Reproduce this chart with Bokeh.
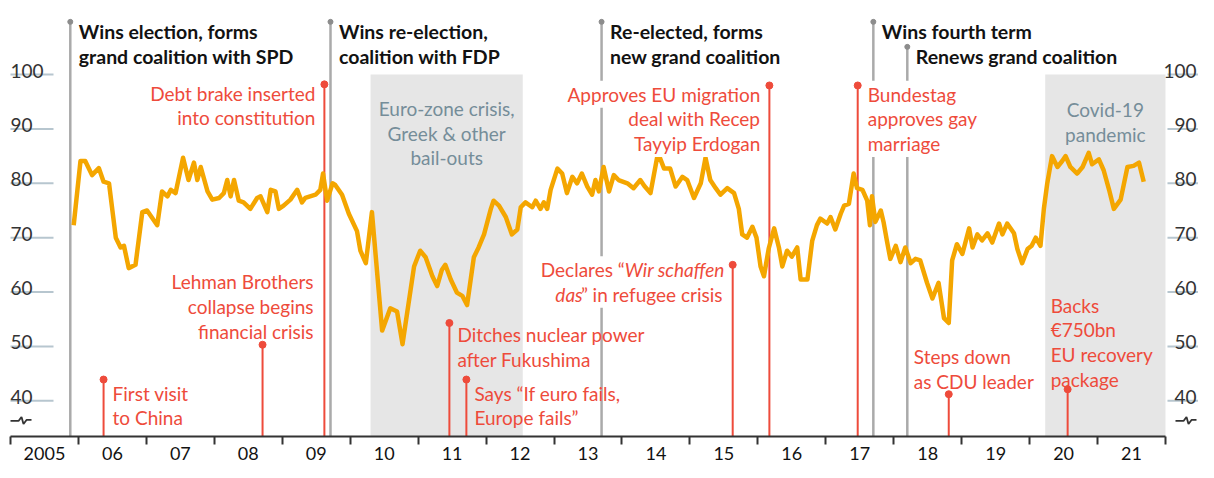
from bokeh.plotting import figure
from bokeh.models import Range1d, LinearAxis, FixedTicker, ColumnDataSource
from bokeh.core.properties import value
from bokeh.embed import file_html
from bokeh.resources import INLINE

# ------------------------------------------------------------------ data
dates = [2005.93, 2006.03, 2006.10, 2006.20, 2006.30, 2006.37, 2006.45, 2006.55, 2006.62, 2006.67,
         2006.74, 2006.84, 2006.94, 2007.01, 2007.16, 2007.23, 2007.31, 2007.36, 2007.43, 2007.54,
         2007.62, 2007.70, 2007.75, 2007.80, 2007.90, 2007.97, 2008.07, 2008.14, 2008.19, 2008.24,
         2008.29, 2008.36, 2008.43, 2008.53, 2008.63, 2008.68, 2008.78, 2008.83, 2008.90, 2008.95,
         2009.02, 2009.12, 2009.22, 2009.29, 2009.34, 2009.49, 2009.56, 2009.60, 2009.66, 2009.74,
         2009.78, 2009.88, 2009.98, 2010.10, 2010.15, 2010.23, 2010.32, 2010.47, 2010.59, 2010.69,
         2010.77, 2010.94, 2011.03, 2011.11, 2011.21, 2011.28, 2011.35, 2011.40, 2011.48, 2011.57,
         2011.65, 2011.72, 2011.82, 2011.89, 2011.97, 2012.07, 2012.11, 2012.19, 2012.29, 2012.38,
         2012.46, 2012.51, 2012.58, 2012.68, 2012.73, 2012.80, 2012.85, 2012.90, 2012.95, 2013.05,
         2013.12, 2013.19, 2013.27, 2013.34, 2013.41, 2013.49, 2013.56, 2013.61, 2013.66, 2013.73,
         2013.81, 2013.88, 2013.95, 2014.08, 2014.17, 2014.27, 2014.33, 2014.42, 2014.53, 2014.62,
         2014.71, 2014.79, 2014.89, 2014.96, 2015.06, 2015.16, 2015.23, 2015.30, 2015.38, 2015.45,
         2015.55, 2015.65, 2015.72, 2015.77, 2015.84, 2015.92, 2015.98, 2016.04, 2016.09, 2016.16,
         2016.24, 2016.31, 2016.36, 2016.43, 2016.50, 2016.58, 2016.63, 2016.73, 2016.80, 2016.87,
         2016.92, 2017.02, 2017.07, 2017.14, 2017.22, 2017.27, 2017.34, 2017.41, 2017.46, 2017.54,
         2017.61, 2017.65, 2017.68, 2017.73, 2017.81, 2017.85, 2017.90, 2017.95, 2018.03, 2018.10,
         2018.17, 2018.25, 2018.32, 2018.39, 2018.49, 2018.57, 2018.66, 2018.74, 2018.81, 2018.86,
         2018.93, 2019.01, 2019.11, 2019.16, 2019.23, 2019.30, 2019.38, 2019.45, 2019.55, 2019.60,
         2019.67, 2019.77, 2019.82, 2019.89, 2019.97, 2020.03, 2020.09, 2020.16, 2020.21, 2020.26,
         2020.33, 2020.41, 2020.48, 2020.53, 2020.60, 2020.70, 2020.78, 2020.87, 2020.92, 2021.02,
         2021.09, 2021.17, 2021.24, 2021.34, 2021.44, 2021.53, 2021.61, 2021.68]
approval = [72.3, 84.1, 84.1, 81.5, 82.8, 80.3, 80.0, 70.0, 68.2, 68.5,
            64.4, 65.0, 74.7, 75.0, 72.3, 78.5, 77.6, 78.8, 78.2, 84.7,
            80.6, 83.8, 80.6, 83.0, 78.5, 77.0, 77.3, 78.2, 80.6, 77.6,
            80.6, 76.8, 76.5, 75.3, 77.3, 77.6, 74.7, 78.8, 78.5, 75.3,
            75.9, 77.0, 78.8, 76.5, 77.3, 77.9, 78.8, 81.8, 76.8, 80.0,
            79.7, 77.9, 74.4, 71.2, 67.6, 65.3, 74.7, 52.9, 57.0, 56.4,
            50.4, 64.7, 67.6, 66.4, 62.9, 61.1, 64.1, 65.0, 62.3, 59.9,
            59.3, 57.6, 66.4, 68.2, 70.6, 75.3, 76.8, 75.9, 73.8, 70.6,
            71.5, 75.6, 76.5, 75.6, 76.8, 75.3, 76.5, 75.3, 78.8, 82.7,
            81.8, 78.2, 81.2, 80.0, 81.8, 79.4, 77.9, 80.6, 78.5, 83.0,
            78.5, 81.5, 80.6, 80.0, 79.1, 80.6, 79.5, 78.2, 85.6, 82.7,
            82.7, 79.4, 81.2, 80.6, 77.3, 80.0, 84.7, 80.6, 79.1, 77.9,
            79.1, 78.2, 75.3, 70.6, 70.0, 72.0, 70.0, 64.7, 62.9, 68.0,
            71.7, 68.2, 64.7, 67.6, 66.5, 68.2, 62.3, 62.3, 69.4, 72.3,
            73.5, 72.6, 73.8, 71.5, 74.4, 75.9, 76.2, 81.8, 79.1, 78.8,
            76.8, 72.3, 77.6, 72.9, 75.0, 72.9, 69.4, 66.1, 68.5, 65.5,
            68.2, 65.3, 66.1, 65.8, 61.7, 58.8, 61.7, 55.2, 54.3, 65.8,
            68.8, 67.0, 71.7, 68.2, 70.6, 69.5, 70.8, 69.1, 72.6, 70.6,
            72.6, 70.8, 67.9, 65.3, 67.9, 68.5, 70.0, 68.5, 75.3, 80.0,
            85.0, 83.0, 84.1, 85.0, 83.0, 81.8, 83.0, 85.6, 83.5, 84.4,
            82.4, 78.8, 75.3, 77.0, 83.0, 83.2, 83.8, 80.3]

y_ticks = [100, 90, 80, 70, 60, 50, 40]
y_tick_labels = ["100", "90", "80", "70", "60", "50", "40"]

years = list(range(2005, 2022))
year_labels = ["2005", "06", "07", "08", "09", "10", "11", "12", "13",
               "14", "15", "16", "17", "18", "19", "20", "21"]

shade_start = [2010.30, 2020.23]
shade_end = [2012.54, 2022.0]
shade_top = [100, 100]
shade_labels = ["Euro-zone crisis,\nGreek & other\nbail-outs", "Covid-19\npandemic"]

election_dates = [2005.88, 2009.71, 2013.70, 2017.70, 2018.20]
election_tops = [109.7, 109.7, 109.7, 109.7, 105.1]
election_labels = ["Wins election, forms\ngrand coalition with SPD",
                   "Wins re-election,\ncoalition with FDP",
                   "Re-elected, forms\nnew grand coalition",
                   "Wins fourth term",
                   "Renews grand coalition"]

event_dates = [2006.37, 2008.71, 2009.62, 2011.46, 2011.71, 2015.63, 2016.17, 2017.47, 2018.81, 2020.56]
event_values = [43.9, 50.3, 98.2, 54.3, 43.9, 65.0, 98.0, 98.0, 41.2, 42.1]
event_labels = ["First visit\nto China",
                "Lehman Brothers\ncollapse begins\nfinancial crisis",
                "Debt brake inserted\ninto constitution",
                "Ditches nuclear power\nafter Fukushima",
                "Says \u201cIf euro fails,\nEurope fails\u201d",
                "Declares \u201cWir schaffen\ndas\u201d in refugee crisis",
                "Approves EU migration\ndeal with Recep\nTayyip Erdogan",
                "Bundestag\napproves gay\nmarriage",
                "Steps down\nas CDU leader",
                "Backs\n\u20ac750bn\nEU recovery\npackage"]

# ------------------------------------------------------------------ style / layout
FONT = "Lato"
ORANGE = "#f4a600"
RED = "#ee4b3b"
GREY_LINE = "#aaaaaa"
SHADE = "#e6e6e6"
SLATE = "#758d99"
GRID = "#b7c6cf"
INK = "#121212"

W, H = 1198, 462
K = H / 478.0                 # vertical compression of the layout
PX_YEAR = 67.94               # pixels per year
PX_UNIT = 5.65 * K            # pixels per index point
X_START = 2005 - 10 / PX_YEAR
X_END = X_START + W / PX_YEAR
FRAME_H = 438
Y_TOP = 100 + 77 * K / PX_UNIT
Y_BOT = Y_TOP - FRAME_H / PX_UNIT

p = figure(width=W, height=H, x_range=Range1d(X_START, X_END), y_range=Range1d(Y_BOT, Y_TOP),
           output_backend="svg", toolbar_location=None,
           x_axis_location=None, y_axis_location=None,
           min_border_left=0, min_border_right=0, min_border_top=0, min_border_bottom=H - FRAME_H)
p.outline_line_color = None
p.grid.visible = False
p.background_fill_color = "white"

# shaded periods
p.quad(left=shade_start, right=shade_end, bottom=[Y_BOT] * 2, top=shade_top,
       fill_color=SHADE, line_color=None)

# grey election lines
p.segment(x0=election_dates, y0=election_tops, x1=election_dates, y1=[Y_BOT] * len(election_dates),
          line_color=GREY_LINE, line_width=2.5)
p.scatter(x=election_dates, y=election_tops, size=5, color="#8c8c8c")

# red event lines
p.segment(x0=event_dates, y0=event_values, x1=event_dates, y1=[Y_BOT] * len(event_dates),
          line_color=RED, line_width=2)
p.scatter(x=event_dates, y=event_values, size=7, color=RED)

# approval line
p.line(dates, approval, line_color=ORANGE, line_width=4.5, line_join="round")

# y labels and short gridlines in the margins
L0, L1 = 2005.0, 2005.0 + 43 / PX_YEAR
R0 = 2022.0 + 2 / PX_YEAR
R_LAB = X_END - 2 / PX_YEAR
p.segment(x0=[L0] * 7, x1=[L1] * 7, y0=y_ticks, y1=y_ticks, line_color=GRID, line_width=2)
p.segment(x0=[R0] * 7, x1=[X_END] * 7, y0=y_ticks, y1=y_ticks, line_color=GRID, line_width=2)
for xx, al in ((L0, "left"), (R_LAB, "right")):
    p.text(x=[xx] * 7, y=y_ticks, text=y_tick_labels, y_offset=-4,
           text_align=al, text_baseline="alphabetic", text_color="#333333",
           text_font=value(FONT), text_font_size="19px")

# axis-break marks
brk_px = [(0, 0), (8, 0), (11, -4), (13, 3), (16, -1), (21, -1)]
brk_y0 = 40 - 21 / 5.65
for bx in (2005.0, X_END - 23 / PX_YEAR):
    p.line([bx + dx / PX_YEAR for dx, _ in brk_px], [brk_y0 - dy / PX_UNIT for _, dy in brk_px],
           line_color="#333333", line_width=1.8)

LH = 25.5 * K


def add_text(x, y, lines, dx, dy0, align, color, style="normal", size="19px", mask=False):
    n = len(lines)
    src = ColumnDataSource(dict(x=[x] * n, y=[y] * n, text=lines,
                                yo=[dy0 * K + i * LH for i in range(n)]))
    kw = dict(x="x", y="y", text="text", source=src, x_offset=dx, y_offset="yo",
              text_align=align, text_baseline="alphabetic", text_color=color,
              text_font=value(FONT), text_font_size=size, text_font_style=style)
    if mask:
        kw.update(background_fill_color="white", padding=2)
    p.text(**kw)


# shade labels
for s, e, t, lab, dy in zip(shade_start, shade_end, shade_top, shade_labels, (35, 36)):
    add_text((s + e) / 2, t, lab.split("\n"), 0, dy, "center", SLATE)

# election labels
for d, t, lab in zip(election_dates, election_tops, election_labels):
    add_text(d, t, lab.split("\n"), 8.5, 10, "left", INK, style="bold", size="19.5px")

# event labels: (x offset, align, first baseline offset, mask grey lines)
event_layout = [(9, "left", 14, False), (51, "right", -65, False), (-9, "right", 9, False),
                (8, "left", 12, False), (8, "left", 14, False), (-8, "right", 5, True),
                (-7, "right", 9, True), (8, "left", 9, True), (-35, "left", -39, False),
                (-17, "left", -87, False)]
for d, v, lab, (dx, al, dy, mk) in zip(event_dates, event_values, event_labels, event_layout):
    lines = lab.split("\n")
    if "Wir schaffen" in lab:
        # mixed roman / italic lines: roman parts masked, italic parts drawn on top unmasked
        l1a, l1b = lines[0].split("\u201c")
        l2a, l2b = lines[1].split("\u201d")
        add_text(d, v, [l1a + "\u201c"], dx - 98, dy, "right", RED, mask=mk)
        add_text(d, v, ["\u201d" + l2b], dx, dy + 25.5, "right", RED, mask=mk)
        add_text(d, v, [l1b], dx, dy, "right", RED, style="italic")
        add_text(d, v, [l2a], dx - 142, dy + 25.5, "right", RED, style="italic")
    else:
        add_text(d, v, lines, dx, dy, al, RED, mask=mk)

# x axis: boundary ticks (minor) and centred year labels (major)
ticker = FixedTicker(ticks=[y + 0.5 for y in years], minor_ticks=list(range(2005, 2023)))
xaxis = LinearAxis(ticker=ticker, bounds=(2005, 2022),
                   major_label_overrides={y + 0.5: lab for y, lab in zip(years, year_labels)})
xaxis.major_tick_line_color = None
xaxis.major_tick_out = 0
xaxis.major_tick_in = 0
xaxis.minor_tick_out = 8
xaxis.minor_tick_in = 0
xaxis.minor_tick_line_width = 2
xaxis.minor_tick_line_color = "#333333"
xaxis.axis_line_width = 2
xaxis.axis_line_color = "#333333"
xaxis.major_label_standoff = 2
xaxis.major_label_text_font = FONT
xaxis.major_label_text_font_size = "18px"
xaxis.major_label_text_color = INK
p.add_layout(xaxis, "below")

open("out.html", "w").write(file_html(p, INLINE))
